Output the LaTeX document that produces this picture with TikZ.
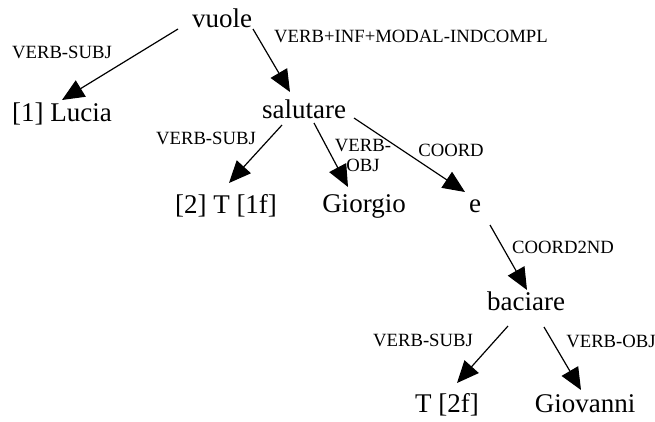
\documentclass[tikz,border=0pt]{standalone}
\usepackage{fontspec}
\setmainfont{Liberation Serif}
\usetikzlibrary{arrows.meta}

\begin{document}
\begin{tikzpicture}[x=1pt, y=-1pt,
    word/.style={inner sep=0pt, anchor=base, font=\fontsize{27}{30}\selectfont},
    rel/.style={inner sep=0pt, anchor=base, font=\fontsize{18.7}{20}\selectfont},
    dep/.style={line width=1.2pt, -{Triangle[length=22pt, width=19pt]}}]
    \useasboundingbox (0,0) rectangle (655,421);

    % Words
    \node[word] (vuole) at (222, 27) {vuole};
    \node[word] (lucia) at (62, 121) {[1] Lucia};
    \node[word] (salutare) at (304, 118) {salutare};
    \node[word] (trace1) at (226, 213) {[2] T [1f]};
    \node[word] (giorgio) at (364, 212) {Giorgio};
    \node[word] (e) at (475, 212) {e};
    \node[word] (baciare) at (526, 310) {baciare};
    \node[word] (trace2) at (447, 412) {T [2f]};
    \node[word] (giovanni) at (585, 412) {Giovanni};

    % Relations
    \node[rel] (subj1) at (62, 58) {VERB-SUBJ};
    \node[rel] (modal) at (411, 42) {VERB+INF+MODAL-INDCOMPL};
    \node[rel] (subj2) at (206, 144) {VERB-SUBJ};
    \node[rel, anchor=north, align=center] (obj1) at (363, 139) {VERB-\\OBJ};
    \node[rel] (coord) at (451, 156) {COORD};
    \node[rel] (coord2) at (563, 253) {COORD2ND};
    \node[rel] (subj3) at (423, 346) {VERB-SUBJ};
    \node[rel] (obj2) at (611, 347) {VERB-OBJ};

    % Edges
    \draw[dep] ([shift={(-44,2)}]vuole.base) -- ([shift={(0,-21)}]lucia.base);
    \draw[dep] ([shift={(31,2)}]vuole.base) -- ([shift={(-14,-26)}]salutare.base);
    \draw[dep] ([shift={(-22,7)}]salutare.base) -- ([shift={(3,-30)}]trace1.base);
    \draw[dep] ([shift={(10,5)}]salutare.base) -- ([shift={(-16,-25)}]giorgio.base);
    \draw[dep] ([shift={(50,0)}]salutare.base) -- ([shift={(-10,-20)}]e.base);
    \draw[dep] ([shift={(15,13)}]e.base) -- ([shift={(1,-20)}]baciare.base);
    \draw[dep] ([shift={(-18,16)}]baciare.base) -- ([shift={(10,-29)}]trace2.base);
    \draw[dep] ([shift={(18,17)}]baciare.base) -- ([shift={(-4,-22)}]giovanni.base);
\end{tikzpicture}
\end{document}
